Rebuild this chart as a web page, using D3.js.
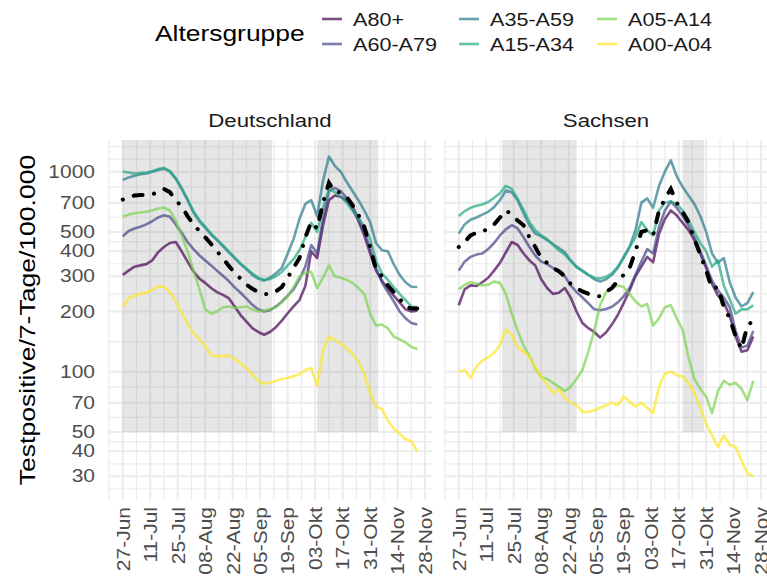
<!DOCTYPE html>
<html>
<head>
<meta charset="utf-8">
<script src="https://cdn.jsdelivr.net/npm/d3@7"></script>
<style>
  body { margin: 0; background: #fff; }
  text { font-family: "Liberation Sans", Arial, sans-serif; }
</style>
</head>
<body>
<div id="chart"></div>
<script>
// ---- data (one point every 3 days from 27 Jun) ----
const ageGroups = ['A80+', 'A60-A79', 'A35-A59', 'A15-A34', 'A05-A14', 'A00-A04']
const ageColors = ['#440154', '#414487', '#2A788E', '#22A884', '#7AD151', '#FDE725']
const panelNames = ['Deutschland', 'Sachsen']

const deA80 = [305,320,335,340,345,360,395,420,440,445,400,355,318,292,278,262,250,242,233,212,192,178,165,158,153,158,167,180,196,212,228,268,400,370,540,720,760,750,715,650,570,480,390,320,285,260,240,222,205,200,202]
const deA60 = [475,505,520,530,545,565,590,605,595,545,495,445,410,382,360,340,320,302,284,264,248,232,216,205,200,203,212,224,240,258,290,335,430,390,580,800,830,800,740,670,590,500,410,330,280,250,225,200,185,175,172]
const deA35 = [910,935,955,970,980,1000,1020,1035,1000,920,820,720,625,565,525,485,455,425,395,370,345,325,305,292,285,295,310,330,390,460,580,690,720,600,900,1190,1070,1000,890,800,720,640,560,440,405,400,345,305,280,266,265]
const deA15 = [1000,990,980,985,990,1005,1030,1045,1010,930,830,730,635,575,530,490,458,428,400,372,348,328,310,295,288,290,300,315,340,365,405,470,555,500,660,820,790,750,700,640,590,530,460,360,310,288,265,245,228,212,210]
const deA05 = [595,610,620,625,630,640,655,660,640,570,480,400,320,260,205,195,200,210,212,208,210,212,205,200,202,205,210,222,238,265,300,312,316,262,295,340,300,295,288,278,262,245,195,170,172,165,150,145,140,133,130]
const deA00 = [211,233,240,245,249,256,266,266,251,224,196,174,155,146,134,121,119,120,120,116,110,104,97,90,87,88,90,92,93,95,97,102,104,85,128,150,144,138,131,123,112,98,78,67,65,57,52,49,46,45,40]
const deTotal = [725,745,760,765,765,770,790,820,790,720,670,600,545,505,470,435,400,370,338,312,292,272,260,250,244,245,252,265,295,330,370,470,560,520,700,880,790,790,750,680,610,530,420,325,300,270,250,232,212,207,207]

const snA80 = [215,258,270,268,280,295,320,350,395,445,430,390,360,340,290,262,245,248,262,235,200,175,165,158,148,157,172,192,220,255,300,335,375,352,490,580,640,605,555,510,455,390,330,275,240,222,190,150,126,128,150]
const snA60 = [320,355,375,385,390,410,440,480,515,540,520,470,420,380,355,345,330,318,300,270,250,235,220,205,203,206,211,222,238,262,305,355,410,390,530,640,710,660,600,540,470,400,340,285,255,235,210,160,132,135,160]
const snA35 = [490,545,575,590,610,630,665,720,805,790,720,620,540,490,475,455,435,415,395,360,335,320,305,290,282,290,305,330,375,420,510,700,735,660,850,1000,1140,950,840,760,690,600,500,390,350,370,280,235,212,220,250]
const snA15 = [600,635,660,675,685,705,740,780,850,820,730,645,560,510,480,460,430,405,385,358,332,318,305,295,292,298,310,335,370,420,470,560,510,480,640,700,710,690,640,575,500,440,400,335,360,270,230,195,205,205,215]
const snA05 = [258,272,280,276,270,272,282,278,245,195,160,135,120,104,94,92,88,84,80,84,92,102,126,160,215,250,262,270,265,245,225,212,218,170,185,210,215,185,162,118,92,82,75,62,80,90,86,88,82,72,90]
const snA00 = [100,102,93,106,114,118,124,136,162,153,132,126,119,105,95,86,78,82,74,70,68,63,63,64,66,68,70,68,75,71,67,70,66,62,84,98,100,96,95,88,78,66,55,48,42,48,43,42,36,31,30]
const snTotal = [420,445,480,495,500,520,545,590,640,610,570,540,470,420,370,350,330,318,300,275,262,252,245,240,238,250,262,285,305,330,400,500,510,480,640,730,820,700,630,560,460,385,320,260,265,210,185,150,130,170,180]

// school holidays (shaded from 50 upwards)
const deHolidays = [[new Date(2020, 5, 27), new Date(2020, 8, 11)], [new Date(2020, 9, 4), new Date(2020, 10, 4)]]
const snHolidays = [[new Date(2020, 6, 19), new Date(2020, 7, 26)], [new Date(2020, 9, 19), new Date(2020, 9, 30)]]
const shadeFloor = 50

const yBreaks = [30, 40, 50, 70, 100, 200, 300, 400, 500, 700, 1000]
const xTickLabels = ['27-Jun', '11-Jul', '25-Jul', '08-Aug', '22-Aug', '05-Sep', '19-Sep', '03-Okt', '17-Okt', '31-Okt', '14-Nov', '28-Nov']

const startDate = new Date(2020, 5, 27)
const dates = deA80.map((_, i) => d3.timeDay.offset(startDate, i * 3))
const xTickDates = xTickLabels.map((_, i) => d3.timeDay.offset(startDate, i * 14))
const xMinorDates = d3.range(13).map(i => d3.timeDay.offset(startDate, i * 14 - 7))

// ---- layout ----
const W = 767, H = 583
const SX = 1.2   // text in the picture is drawn a bit wide
const panelW = 324, panelTop = 140, panelBottom = 500
const panelLeft = [108, 444]

const svg = d3.select('#chart').append('svg').attr('width', W).attr('height', H)

const x = d3.scaleTime()
  .domain([d3.timeHour.offset(startDate, -7.5 * 24), d3.timeHour.offset(startDate, 157.5 * 24)])
  .range([0, panelW])

const y = d3.scaleLog()
  .domain([22.83, 1440])
  .range([panelBottom, panelTop])

// minor breaks: geometric midpoints, extended one step above like ggplot
const step = yBreaks[1] / yBreaks[0]
const ext = [yBreaks[0] / step].concat(yBreaks, [yBreaks[yBreaks.length - 1] * step])
const yMinor = d3.pairs(ext).map(([a, b]) => Math.sqrt(a * b)).concat([ext[ext.length - 1]])
  .filter(v => v > y.domain()[0] && v < y.domain()[1])

const panels = [
  {name: panelNames[0], series: [deA80, deA60, deA35, deA15, deA05, deA00], total: deTotal, holidays: deHolidays},
  {name: panelNames[1], series: [snA80, snA60, snA35, snA15, snA05, snA00], total: snTotal, holidays: snHolidays}
]

const line = d3.line()
  .x(d => x(d[0]))
  .y(d => y(d[1]))

panels.forEach((p, pi) => {
  const g = svg.append('g').attr('transform', `translate(${panelLeft[pi]},0)`)

  g.append('clipPath').attr('id', 'clip' + pi)
    .append('rect').attr('x', 0).attr('y', panelTop).attr('width', panelW).attr('height', panelBottom - panelTop)
  const inner = g.append('g').attr('clip-path', `url(#clip${pi})`)

  // grid
  inner.selectAll('.ymin').data(yMinor).join('line')
    .attr('x1', 0).attr('x2', panelW).attr('y1', d => y(d)).attr('y2', d => y(d))
    .attr('stroke', '#EBEBEB').attr('stroke-width', 1.2)
  inner.selectAll('.xmin').data(xMinorDates).join('line')
    .attr('x1', d => x(d)).attr('x2', d => x(d)).attr('y1', panelTop).attr('y2', panelBottom)
    .attr('stroke', '#EBEBEB').attr('stroke-width', 1.2)
  inner.selectAll('.ymaj').data(yBreaks).join('line')
    .attr('x1', 0).attr('x2', panelW).attr('y1', d => y(d)).attr('y2', d => y(d))
    .attr('stroke', '#EBEBEB').attr('stroke-width', 2)
  inner.selectAll('.xmaj').data(xTickDates).join('line')
    .attr('x1', d => x(d)).attr('x2', d => x(d)).attr('y1', panelTop).attr('y2', panelBottom)
    .attr('stroke', '#EBEBEB').attr('stroke-width', 2)

  // holidays
  inner.selectAll('rect.shade').data(p.holidays).join('rect')
    .attr('x', d => x(d[0]))
    .attr('width', d => x(d[1]) - x(d[0]))
    .attr('y', panelTop)
    .attr('height', y(shadeFloor) - panelTop)
    .attr('fill', '#808080').attr('fill-opacity', 0.2)

  // age groups
  p.series.forEach((vals, si) => {
    inner.append('path')
      .datum(vals.map((v, i) => [dates[i], v]))
      .attr('d', line)
      .attr('fill', 'none')
      .attr('stroke', ageColors[si])
      .attr('stroke-opacity', 0.7)
      .attr('stroke-width', 2.6)
      .attr('stroke-linejoin', 'round')
  })

  // total
  inner.append('path')
    .datum(p.total.map((v, i) => [dates[i], v]))
    .attr('d', line)
    .attr('fill', 'none')
    .attr('stroke', '#000')
    .attr('stroke-width', 4)
    .attr('stroke-linecap', 'round')
    .attr('stroke-dasharray', '0.1,11.5,9,11.5')

  // strip
  g.append('text')
    .attr('transform', `translate(${panelW / 2},127) scale(${SX},1)`)
    .attr('text-anchor', 'middle')
    .attr('font-size', 18.5)
    .attr('fill', '#1A1A1A')
    .text(p.name)

  // x axis
  const ax = g.append('g').attr('transform', `translate(0,${panelBottom})`)
    .call(d3.axisBottom(x).tickValues(xTickDates).tickFormat((d, i) => xTickLabels[i]).tickSize(0))
  ax.select('.domain').remove()
  ax.selectAll('text')
    .attr('transform', `rotate(-90) scale(${SX},1)`)
    .attr('x', -7 / SX).attr('y', 0).attr('dy', '0.36em')
    .attr('text-anchor', 'end')
    .attr('font-size', 17.5)
    .attr('font-family', '"Liberation Sans", Arial, sans-serif')
    .attr('fill', '#4D4D4D')

  if (pi === 0) {
    const ay = g.append('g')
      .call(d3.axisLeft(y).tickValues(yBreaks).tickFormat(d3.format('d')).tickSize(0))
    ay.select('.domain').remove()
    ay.selectAll('text')
      .attr('transform', `scale(${SX},1)`)
      .attr('x', -13 / SX)
      .attr('font-size', 17.5)
      .attr('font-family', '"Liberation Sans", Arial, sans-serif')
      .attr('fill', '#4D4D4D')
  }
})

// y title
svg.append('text')
  .attr('transform', `translate(35,${(panelTop + panelBottom) / 2}) rotate(-90) scale(1.18,1)`)
  .attr('text-anchor', 'middle')
  .attr('font-size', 22.5)
  .attr('fill', '#000')
  .text('Testpositive/7-Tage/100.000')

// legend
const legend = svg.append('g')
legend.append('text')
  .attr('transform', `translate(155,41) scale(${SX},1)`)
  .attr('font-size', 22)
  .attr('fill', '#000')
  .text('Altersgruppe')

const legCols = [322, 459, 597]
const legRows = [19, 44]
const items = legend.selectAll('g.item').data(ageGroups).join('g')
  .attr('transform', (d, i) => `translate(${legCols[Math.floor(i / 2)]},${legRows[i % 2]})`)
items.append('line')
  .attr('x1', 0).attr('x2', 20).attr('y1', 0).attr('y2', 0)
  .attr('stroke', (d, i) => ageColors[i])
  .attr('stroke-opacity', 0.7)
  .attr('stroke-width', 2.6)
items.append('text')
  .attr('transform', `translate(31,6.5) scale(${SX},1)`)
  .attr('font-size', 18)
  .attr('fill', '#1A1A1A')
  .text(d => d)
</script>
</body>
</html>
